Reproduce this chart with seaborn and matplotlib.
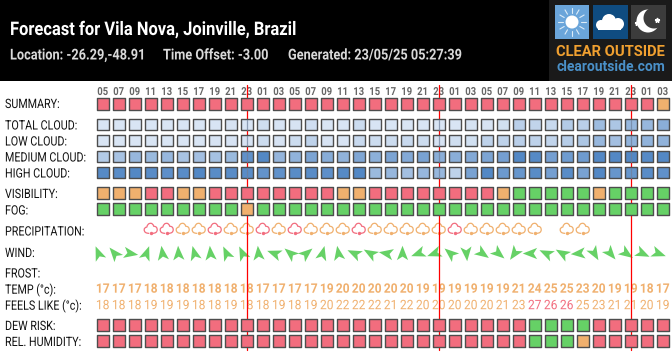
import numpy as np
import pandas as pd
import seaborn as sns
import matplotlib
matplotlib.use('Agg')
import matplotlib.pyplot as plt
from matplotlib.path import Path
from matplotlib.markers import MarkerStyle
from matplotlib.patheffects import AbstractPathEffect
from matplotlib.transforms import Affine2D
from matplotlib.patches import Rectangle, Circle

hours = ['05','07','09','11','13','15','17','19','21','23','01','03'] * 3

# r = red, o = orange, g = green
summary = list('r' * 35 + 'o')
visibility = list('ooorroorrrrrrrr' + 'oorrrrrrrrogggggoggg' + 'g')
fog = list('g' * 9 + 'o' + 'g' * 26)
dew_risk = list('r' * 27 + 'gggg' + 'r' * 5)
humidity = list('r' * 27 + 'gggo' + 'r' * 5)

# cloud cover, percent
total_cloud = [2,2,2,2,2,2,2,3,4,3,10,4,4,9,2,2,12,3,2,2,2,2,2,5,4,8,25,20,15,30,25,45,35,50,50,60]
low_cloud = [2,2,2,2,2,2,2,4,4,4,12,4,12,22,4,3,15,12,12,15,12,4,10,8,22,22,25,22,20,28,35,50,42,55,55,55]
medium_cloud = [30,38,50,48,50,38,42,40,48,90,100,52,55,70,62,55,68,58,70,65,72,60,60,65,70,75,100,98,75,80,80,100,100,100,98,100]
high_cloud = [98,95,100,95,92,95,100,95,95,95,88,90,95,95,92,98,100,48,50,42,50,50,22,72,100,82,85,95,75,95,72,100,85,85,95,90]

# precipitation icons, by column
precip_cols = [3,4,5,6,7,8,9,10,11,12,13,14,15,16,17,18,19,20,21,22,23,24,25,26,27,29,30]
precip_kind = list('rroorooroRoo'.lower() + 'oroooooroooooo'[:13] + 'oo')

# wind bearing the arrow points to, degrees clockwise from north
wind_dir = [-22,-40,100,20,-8,-3,-15,-5,-25,-25,-5,-70,-50,50,15,-10,
            -65,-60,-80,0,-110,-110,-50,175,125,130,-145,-90,-65,-60,-95,150,140,125,115,110]

temp = [17,17,17,18,18,18,18,18,18,18,17,17,17,17,19,20,20,20,20,20,19,19,19,19,19,19,21,24,25,25,23,20,19,19,18,17]
feels = [18,18,18,19,19,19,18,18,19,18,18,19,18,19,20,22,22,22,21,22,20,20,20,20,20,21,23,27,26,26,25,23,21,21,20,19]

row_labels = ['SUMMARY:','TOTAL CLOUD:','LOW CLOUD:','MEDIUM CLOUD:','HIGH CLOUD:','VISIBILITY:','FOG:',
              'PRECIPITATION:','WIND:','FROST:','TEMP (°c):','FEELS LIKE (°c):','DEW RISK:','REL. HUMIDITY:']
label_y = [104.5,126,142,158,174,194.5,211,232,253.5,274,290,306,326.5,342.5]

RED = '#f26d7e'
ORANGE = '#f0b06e'
GREEN = '#66d166'
BLUES = sns.blend_palette(['#dce7f5', '#5388c5'], as_cmap=True)
level_colors = {'r': RED, 'o': ORANGE, 'g': GREEN}
EDGE = '#4d4d4d'
X0, DX = 102.7, 16.0


class Squeeze(AbstractPathEffect):
    # the site uses a condensed face, squeeze Roboto sideways to get the same widths
    def __init__(self, sx, center=False):
        super().__init__()
        self.sx = sx
        self.center = center

    def draw_path(self, renderer, gc, tpath, affine, rgbFace=None):
        t = Affine2D()
        if self.center:
            e = tpath.get_extents()
            mid = (e.x0 + e.x1) / 2
            t = t.translate(-mid, 0).scale(self.sx, 1).translate(mid, 0)
        else:
            t = t.scale(self.sx, 1)
        renderer.draw_path(gc, tpath, t + affine, rgbFace)


sns.set_theme(style='white')
plt.rcParams['font.family'] = ['Roboto', 'DejaVu Sans']

fig = plt.figure(figsize=(6.72, 3.52), dpi=100)
bg = fig.add_axes([0, 0, 1, 1])
bg.set_xlim(0, 672)
bg.set_ylim(352, 0)
bg.axis('off')
# column axes: x is the forecast column
ax = fig.add_axes([0, 0, 1, 1], zorder=2)
ax.set_xlim(-X0 / DX, (672 - X0) / DX)
ax.set_ylim(352, 0)
ax.axis('off')
ax.patch.set_alpha(0)

# header
bg.add_patch(Rectangle((0, 0), 672, 80.5, color='black', lw=0))
bg.text(10, 30, 'Forecast for Vila Nova, Joinville, Brazil', color='white', fontsize=13.5, fontweight='bold',
        va='center', path_effects=[Squeeze(0.88)])
for x, s in [(10, 'Location: -26.29,-48.91'), (163, 'Time Offset: -3.00'), (288, 'Generated: 23/05/25 05:27:39')]:
    bg.text(x, 55.5, s, color='#d9d9d9', fontsize=10.8, fontweight='bold', va='center', path_effects=[Squeeze(0.85)])

# logo
bg.add_patch(Rectangle((549, 0), 123, 80.5, color='#1a1a1a', lw=0))
bg.add_patch(Rectangle((555, 5), 34, 34, color='#6aa5da', lw=0))
bg.add_patch(Rectangle((593, 5), 35, 34, color='#0f4c81', lw=0))
bg.add_patch(Rectangle((631, 5), 35, 34, color='#3c3c3c', lw=0))
bg.add_patch(Circle((572, 22), 6.5, color='white', lw=0))
for a in np.arange(0, 360, 30):
    ca, sa = np.cos(np.radians(a)), np.sin(np.radians(a))
    bg.plot([572 + 9 * ca, 572 + 14 * ca], [22 + 9 * sa, 22 + 14 * sa], color='#dcecf8', lw=0.8)
for cx, cy, r in [(601, 25, 5), (609, 21, 7), (618, 24, 6)]:
    bg.add_patch(Circle((cx, cy), r, color='white', lw=0))
bg.add_patch(Rectangle((598, 24), 23, 6, color='white', lw=0))
bg.add_patch(Circle((648, 21), 11.5, color='white', lw=0))
bg.add_patch(Circle((654, 18), 10.5, color='#3c3c3c', lw=0))
bg.plot([637, 657], [23, 20], ls='none', marker='*', color='white', ms=3.5)
bg.text(610.5, 52, 'CLEAR OUTSIDE', color='#f0a030', fontsize=10.6, fontweight='bold', ha='center', va='center')
bg.text(610.5, 67, 'clearoutside.com', color='#4a90c8', fontsize=10, fontweight='bold', ha='center', va='center')

# row labels
for s, y in zip(row_labels, label_y):
    bg.text(5, y, s, color='#111111', fontsize=9.3, va='center', path_effects=[Squeeze(0.83)])

# hour labels
for i, h in enumerate(hours):
    ax.text(i, 92, h, color='#666666', fontsize=8, fontweight='bold', ha='center', va='center',
            path_effects=[Squeeze(0.85, center=True)])

# forecast day boundaries
days = [i for i, h in enumerate(hours) if h == '23']
for i in days:
    sns.lineplot(x=[i, i], y=[85, 350], estimator=None, color='red', lw=0.9, ax=ax, zorder=3)


def cell_row(values, y):
    df = pd.DataFrame({'col': np.arange(36), 'y': y})
    if isinstance(values[0], str):
        df['kind'] = values
        sns.scatterplot(data=df, x='col', y='y', hue='kind', palette=level_colors, marker='s', s=74,
                        edgecolor=EDGE, linewidth=1.0, legend=False, ax=ax, zorder=4)
    else:
        df['cloud'] = values
        sns.scatterplot(data=df, x='col', y='y', hue='cloud', palette=BLUES, hue_norm=(0, 100), marker='s', s=74,
                        edgecolor=EDGE, linewidth=1.0, legend=False, ax=ax, zorder=4)


cell_row(summary, 103.7)
for vals, y in [(total_cloud, 124.5), (low_cloud, 140.5), (medium_cloud, 156.5), (high_cloud, 172.5)]:
    cell_row(vals, y)
    # the boundary shows faintly through the cloud cells
    for i in days:
        sns.lineplot(x=[i, i], y=[y - 5, y + 5], estimator=None, color='#6f7f99', lw=0.9, alpha=0.7, ax=ax, zorder=5)
for vals, y in [(visibility, 193), (fog, 209), (dew_risk, 325.3), (humidity, 341.3)]:
    cell_row(vals, y)

# precipitation: outline cloud with a drop under it
cloud_path = Path([(-0.25, -0.6), (-1.1, -0.6), (-1.1, 0.0), (-1.1, 0.45), (-0.65, 0.45), (-0.55, 1.1), (0.0, 1.1),
                   (0.4, 1.1), (0.5, 0.6), (1.1, 0.6), (1.1, 0.0), (1.1, -0.6), (0.25, -0.6)],
                  [Path.MOVETO, Path.CURVE3, Path.CURVE3, Path.CURVE3, Path.CURVE3, Path.CURVE3, Path.CURVE3,
                   Path.CURVE3, Path.CURVE3, Path.CURVE3, Path.CURVE3, Path.CURVE3, Path.CURVE3])
precip = pd.DataFrame({'col': precip_cols, 'kind': precip_kind})
for kind, part in precip.groupby('kind'):
    sns.scatterplot(data=part, x='col', y=[229.8] * len(part), marker=MarkerStyle(cloud_path, fillstyle='none'), s=88,
                    color=level_colors[kind], linewidth=0.9, ax=ax, zorder=2)
    sns.scatterplot(data=part, x='col', y=[233] * len(part), marker='o', s=6, color=level_colors[kind], linewidth=0,
                    ax=ax, zorder=2)

# wind arrows, they sit a bit left of their column
arrow = Path([(0, 1.0), (0.72, -0.85), (0, -0.4), (-0.72, -0.85), (0, 1.0)])
for i, d in enumerate(wind_dir):
    m = MarkerStyle(arrow, transform=Affine2D().rotate_deg(-d))
    sns.scatterplot(x=[i - 0.3], y=[252.7], marker=m, s=125, color=GREEN, linewidth=0, ax=ax, zorder=2)

# temperatures
for i, (t, f) in enumerate(zip(temp, feels)):
    ax.text(i, 289.2, str(t), color=ORANGE, fontsize=9.4, fontweight='bold', ha='center', va='center', zorder=2,
            path_effects=[Squeeze(0.92, center=True)])
    c = RED if f >= 26 else ORANGE
    ax.text(i, 305.7, str(f), color=c, fontsize=9.4, ha='center', va='center', zorder=2,
            path_effects=[Squeeze(0.92, center=True)])

fig.savefig('out.png', dpi=100)
